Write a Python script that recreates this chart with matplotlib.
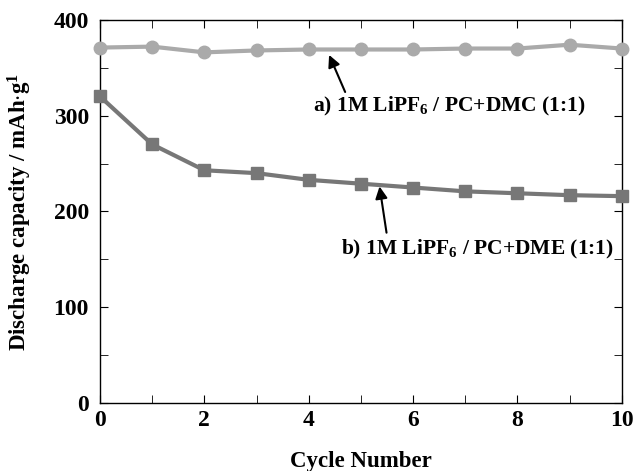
import numpy as np
import matplotlib
matplotlib.use("Agg")
import matplotlib.pyplot as plt
from matplotlib.ticker import MultipleLocator

plt.rcParams['font.family'] = 'Liberation Serif'
plt.rcParams['font.weight'] = 'bold'
plt.rcParams['mathtext.fontset'] = 'custom'
plt.rcParams['mathtext.rm'] = 'Liberation Serif:bold'
plt.rcParams['mathtext.bf'] = 'Liberation Serif:bold'
plt.rcParams['mathtext.default'] = 'bf'

cycles = np.arange(0, 11)
cap_dmc = [371, 372, 366, 368, 369, 369, 369, 370, 370, 374, 370]
cap_dme = [320, 270, 243, 240, 233, 229, 225, 221, 219, 217, 216]

fig = plt.figure(figsize=(6.37, 4.71), dpi=100)
ax = fig.add_axes([0.157, 0.144, 0.819, 0.814])

ax.plot(cycles, cap_dmc, color='#aaaaaa', lw=3, marker='o', ms=9, clip_on=False, zorder=3)
ax.plot(cycles, cap_dme, color='#777777', lw=3, marker='s', ms=8, clip_on=False, zorder=3)

ax.set_xlim(0, 10)
ax.set_ylim(0, 400)
ax.xaxis.set_major_locator(MultipleLocator(2))
ax.xaxis.set_minor_locator(MultipleLocator(1))
ax.yaxis.set_major_locator(MultipleLocator(100))
ax.yaxis.set_minor_locator(MultipleLocator(50))
ax.tick_params(which='both', direction='in', top=True, right=True, labelsize=17, length=6)
ax.tick_params(axis='x', pad=5)
ax.tick_params(axis='y', pad=8)
for s in ax.spines.values():
    s.set_linewidth(1)

ax.set_xlabel('Cycle Number', fontsize=16.5, fontweight='bold', labelpad=14)
ax.set_ylabel(r'Discharge capacity / mAh$\cdot$g$^{1}$', fontsize=16.5, fontweight='bold', labelpad=14)

ax.annotate('', xy=(4.37, 366), xytext=(4.72, 322),
            arrowprops=dict(arrowstyle='-|>', color='black', lw=1.5, mutation_scale=18))
ax.text(4.08, 310, r'a) 1M LiPF$_{6}$ / PC+DMC (1:1)', fontsize=15.5, fontweight='bold', va='center')

ax.annotate('', xy=(5.35, 229), xytext=(5.5, 175),
            arrowprops=dict(arrowstyle='-|>', color='black', lw=1.5, mutation_scale=18))
ax.text(4.62, 160, r'b) 1M LiPF$_{6}$ / PC+DME (1:1)', fontsize=15.5, fontweight='bold', va='center')

fig.savefig('out.png', dpi=100)
